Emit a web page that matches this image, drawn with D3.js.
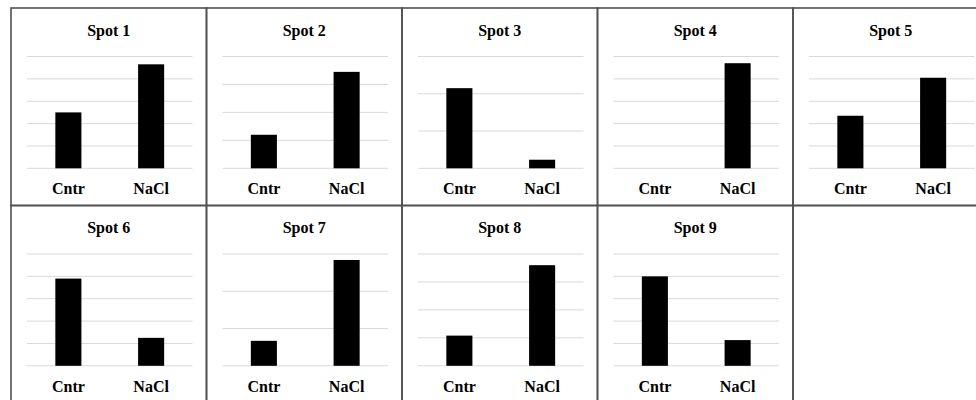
<!DOCTYPE html>
<html>
<head>
<meta charset="utf-8">
<script src="https://cdn.jsdelivr.net/npm/d3@7"></script>
<style>
  html, body { margin: 0; padding: 0; background: #fff; }
  svg { display: block; }
</style>
</head>
<body>
<div id="chart"></div>
<script>
// Panel titles, categories and measured values (relative units)
const spots = ["Spot 1", "Spot 2", "Spot 3", "Spot 4", "Spot 5", "Spot 6", "Spot 7", "Spot 8", "Spot 9"];
const categories = ["Cntr", "NaCl"];
const cntrValues = [2.5, 1.2, 2.15, 0, 2.35, 3.9, 0.67, 1.08, 4.0];
const naclValues = [4.65, 3.45, 0.23, 4.7, 4.05, 1.25, 2.84, 3.6, 1.15];
// Upper end of each panel's value axis (gridlines every 1 unit)
const axisMax = [5, 4, 3, 5, 5, 5, 3, 4, 5];

const width = 976, height = 400;
const gridLeft = 11, gridTop = 8;
const cellW = 195.5, cellH = 197.5;
const nCols = 5, nRows = 2;
const serif = "'Liberation Serif', 'Times New Roman', Times, 'DejaVu Serif', serif";

const svg = d3.select("#chart").append("svg")
  .attr("width", width).attr("height", height);

// Panel frame lines
const frame = svg.append("g");
for (let r = 0; r < nRows; r++) {
  for (let c = 0; c < nCols; c++) {
    frame.append("rect")
      .attr("x", gridLeft + c * cellW)
      .attr("y", gridTop + r * cellH)
      .attr("width", cellW)
      .attr("height", cellH)
      .attr("fill", "none")
      .attr("stroke", "#505050")
      .attr("stroke-width", 1.6);
  }
}

const plotInsetL = 16, plotInsetR = 14;
const plotTop = 48.5, plotBottom = 160.3;

spots.forEach((name, i) => {
  const col = i % nCols, row = Math.floor(i / nCols);
  const x0 = gridLeft + col * cellW, y0 = gridTop + row * cellH;
  const g = svg.append("g").attr("transform", `translate(${x0},${y0})`);

  const x = d3.scaleBand()
    .domain(categories)
    .range([plotInsetL, cellW - plotInsetR])
    .paddingInner(0.685)
    .paddingOuter(0.3425);

  const y = d3.scaleLinear()
    .domain([0, axisMax[i]])
    .range([plotBottom, plotTop]);

  // Horizontal gridlines
  g.append("g")
    .selectAll("line")
    .data(d3.range(0, axisMax[i] + 1))
    .join("line")
    .attr("x1", plotInsetL)
    .attr("x2", cellW - plotInsetR)
    .attr("y1", d => y(d))
    .attr("y2", d => y(d))
    .attr("stroke", "#d9d9d9")
    .attr("stroke-width", 1);

  const vals = [cntrValues[i], naclValues[i]];
  g.append("g")
    .selectAll("rect")
    .data(categories.map((c, k) => ({ c, v: vals[k] })))
    .join("rect")
    .attr("x", d => x(d.c))
    .attr("width", x.bandwidth())
    .attr("y", d => y(d.v))
    .attr("height", d => y(0) - y(d.v))
    .attr("fill", "#000");

  // Title
  g.append("text")
    .attr("x", cellW / 2)
    .attr("y", 22)
    .attr("dy", "0.35em")
    .attr("text-anchor", "middle")
    .style("font-family", serif)
    .style("font-weight", "bold")
    .style("font-size", "16px")
    .attr("fill", "#000")
    .text(name);

  // Category labels
  g.append("g")
    .selectAll("text")
    .data(categories)
    .join("text")
    .attr("x", d => x(d) + x.bandwidth() / 2)
    .attr("y", 180.5)
    .attr("dy", "0.35em")
    .attr("text-anchor", "middle")
    .style("font-family", serif)
    .style("font-weight", "bold")
    .style("font-size", "16px")
    .attr("fill", "#000")
    .text(d => d);
});
</script>
</body>
</html>
